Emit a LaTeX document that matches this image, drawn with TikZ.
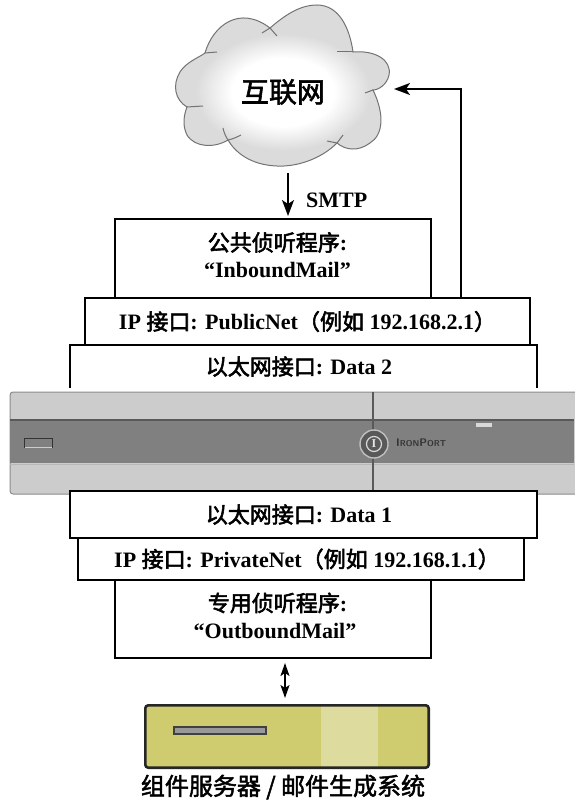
\documentclass[tikz,border=0pt]{standalone}
\usepackage{fontspec}
\setmainfont{Liberation Serif}
\newfontfamily\cjk[FakeBold=2.5]{Noto Sans CJK SC}
\newfontfamily\cjklight[FakeBold=2]{Noto Sans CJK SC}
\newcommand{\zh}[1]{{\mdseries\cjk #1}}
\newcommand{\lpar}{\zh{\symbol{"FF08}}}
\newcommand{\rpar}{\zh{\symbol{"FF09}}}
\usetikzlibrary{arrows.meta}
\pgfdeclareradialshading{cloudglow}{\pgfpoint{0bp}{0bp}}{color(0bp)=(white);color(17bp)=(white);color(29bp)=(black!14);color(50bp)=(black!14)}
\tikzset{
  frame/.style={draw=black,line width=1.8pt,fill=white,inner sep=0pt,font=\bfseries\fontsize{22}{27}\selectfont,align=center},
  plain/.style={inner sep=0pt,font=\bfseries\fontsize{22}{27}\selectfont,align=center},
  link/.style={draw=black,line width=1.8pt,-{Stealth[length=16pt,width=12pt,inset=4pt]}},
  twoway/.style={draw=black,line width=1.8pt,{Stealth[length=13pt,width=9pt,inset=3pt]}-{Stealth[length=13pt,width=9pt,inset=3pt]}},
  cloudline/.style={draw=black!55,line width=1pt},
  devline/.style={draw=black!65,line width=1.3pt},
}
\begin{document}
\begin{tikzpicture}[x=1pt,y=-1pt]
\useasboundingbox (0,0) rectangle (574,800);
% cloud
\def\cloudpath{(205,53) .. controls (213,25) and (240,5) .. (270,28)
 .. controls (285,15) and (300,5) .. (317,5)
 .. controls (340,5) and (350,30) .. (353,52)
 .. controls (375,50) and (392,60) .. (389,75)
 .. controls (387,85) and (378,90) .. (373,90)
 .. controls (385,115) and (383,135) .. (370,143)
 .. controls (358,152) and (345,150) .. (337,143)
 .. controls (320,160) and (295,167) .. (277,166)
 .. controls (250,165) and (235,152) .. (228,140)
 .. controls (215,148) and (195,148) .. (187,135)
 .. controls (182,125) and (184,115) .. (187,107)
 .. controls (175,100) and (172,85) .. (180,72)
 .. controls (186,62) and (200,57) .. (205,53) -- cycle}
\begin{scope}
\clip \cloudpath;
\begin{scope}[shift={(283,92)},xscale=3,yscale=2]
\pgftext{\pgfuseshading{cloudglow}}
\end{scope}
\end{scope}
\draw[cloudline] \cloudpath;
\draw[cloudline] (262,33) -- (270,28) -- (277,36);
\draw[cloudline] (205,53) -- (217,52);
\draw[cloudline] (187,107) -- (203,106);
\draw[cloudline] (223,128) .. controls (224,133) and (226,137) .. (228,140) .. controls (233,139) and (237,137) .. (241,135);
\draw[cloudline] (343,135) -- (337,143) -- (327,141);
\draw[cloudline] (337,52) -- (353,52);
\draw[cloudline] (365,93) -- (373,90);
\node[inner sep=0pt,font=\fontsize{28}{30}\selectfont] (net) at (283,92) {{\cjklight 互联网}};
% device
\fill[rounded corners=3pt,fill=black!20,draw=black!45,line width=1pt] (10,392) rectangle (590,494);
\fill[black!50] (10,420) rectangle (574,463);
\draw[devline] (10,420) -- (574,420);
\draw[black!28,line width=1pt] (10,464) -- (574,464);
\draw[devline] (373,392) -- (373,491);
\fill[black!50] (24,438) rectangle (52,448);
\draw[black!80,line width=1pt] (24,448) -- (24,438.5) -- (52,438.5) -- (52,448);
\draw[black!20,line width=1pt] (25,447.5) -- (52,447.5);
\fill[black!15] (476,423) rectangle (492,427);
\node[circle,draw=black!25,line width=1.4pt,fill=black!65,minimum size=28pt,inner sep=0pt] (logo) at (374,444) {};
\node[circle,draw=black!15,line width=1.2pt,minimum size=15pt,inner sep=0pt,font=\bfseries\fontsize{12}{12}\selectfont,text=black!10] (logoi) at (374,444) {I};
\node[anchor=west,inner sep=0pt,text=black!80,font=\sffamily\bfseries\fontsize{11}{10}\selectfont] (brand) at (396,443) {I\fontsize{8.5}{10}\selectfont RON\fontsize{11}{10}\selectfont P\fontsize{8.5}{10}\selectfont ORT};
% upper stack
\node[frame,minimum width=316pt,minimum height=79pt] (pub) at (273,258.5) {\hspace*{9pt}\zh{公共侦听程序}:\\\hspace*{9pt}“InboundMail”\\[-20pt]\mbox{}};
\node[frame,minimum width=445pt,minimum height=47pt] (ipa) at (307.5,321.5) {IP \zh{接口}: PublicNet\lpar\zh{例如} 192.168.2.1\rpar};
\node[plain,minimum width=467pt,minimum height=43pt] (etha) at (303.5,366.5) {\zh{以太网接口}: Data 2\hspace*{9pt}};
\draw[black,line width=1.8pt] (etha.south west) -- (etha.north west) -- (etha.north east) -- (etha.south east);
% lower stack
\node[frame,minimum width=316pt,minimum height=78pt] (prv) at (273,619) {\hspace*{9pt}\zh{专用侦听程序}:\\\hspace*{4pt}“OutboundMail”\\[-20pt]\mbox{}};
\node[frame,minimum width=446pt,minimum height=42pt] (ipb) at (301,559) {\hspace*{12pt}IP \zh{接口}: PrivateNet\lpar\zh{例如} 192.168.1.1\rpar};
\node[frame,minimum width=467pt,minimum height=47pt] (ethb) at (303.5,514.5) {\zh{以太网接口}: Data 1\hspace*{9pt}};
% server
\node[minimum width=283pt,minimum height=62pt,inner sep=0pt] (srv) at (287,736.5) {};
\fill[rounded corners=3pt,fill={rgb,255:red,207;green,204;blue,112}] (srv.south west) rectangle (srv.north east);
\fill[fill={rgb,255:red,222;green,219;blue,158}] (321,706) rectangle (378,767);
\draw[draw=black!85,line width=2.6pt,rounded corners=3pt] (srv.south west) rectangle (srv.north east);
\draw[draw=black!75,line width=1.4pt,fill=black!40] (174,727) rectangle (266,734);
\node[inner sep=0pt,font=\fontsize{24}{26}\selectfont] (srvl) at (283,787) {{\cjklight 组件服务器 / 邮件生成系统}};
% connectors
\coordinate (smtpa) at (288,173);
\coordinate (smtpb) at (288,216);
\draw[link] (smtpa) -- (smtpb);
\node[anchor=west,inner sep=0pt,font=\bfseries\fontsize{22}{24}\selectfont] (smtp) at (306,200) {SMTP};
\coordinate (upa) at (461,298);
\coordinate (upb) at (394,89);
\draw[link] (upa) |- (upb);
\coordinate (twoa) at (285,663);
\coordinate (twob) at (285,698);
\draw[twoway] (twoa) -- (twob);
\end{tikzpicture}
\end{document}
